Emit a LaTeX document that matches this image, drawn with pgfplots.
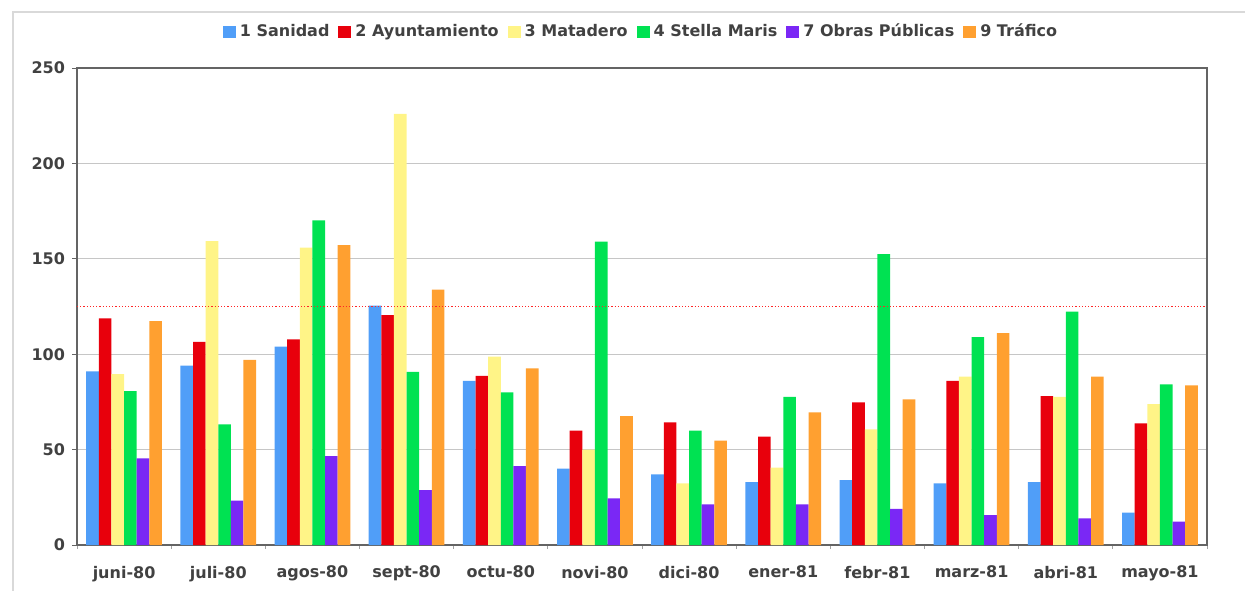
\documentclass[border=0pt]{standalone}
\usepackage{pgfplots}
\pgfplotsset{compat=1.18}
\usepackage{fontspec}
\setmainfont{DejaVu Sans}
\definecolor{cblue}{RGB}{80,158,248}
\definecolor{cred}{RGB}{232,0,12}
\definecolor{cyellow}{RGB}{255,244,135}
\definecolor{cgreen}{RGB}{0,226,82}
\definecolor{cpurple}{RGB}{122,40,245}
\definecolor{corange}{RGB}{255,160,48}
\definecolor{axgray}{RGB}{100,100,100}
\definecolor{txtgray}{RGB}{65,65,65}
\begin{document}
\begin{tikzpicture}
\useasboundingbox (0,0) rectangle (622.5pt,295pt);
\begin{scope}
\clip (0,0) rectangle (622.5pt,295pt);
\draw[gray!30, line width=1.2pt] (6.5pt,-5pt) -- (6.5pt,289pt) -- (640pt,289pt);
\end{scope}
\begin{axis}[
  at={(38.5pt,22.5pt)}, anchor=south west,
  scale only axis, width=565pt, height=238.5pt,
  ybar=0pt, bar width=0.134,
  xmin=-0.5, xmax=11.5, ymin=0, ymax=250,
  ytick={0,50,...,250},
  xtick={0,...,11},
  xticklabels={juni-80,juli-80,agos-80,sept-80,octu-80,novi-80,dici-80,ener-81,febr-81,marz-81,abri-81,mayo-81},
  minor xtick={-0.5,0.5,...,11.5},
  xtick pos=left, ytick pos=left,
  tick align=outside,
  major x tick style={draw=none},
  minor x tick style={axgray!60, line width=0.5pt},
  minor tick length=2pt,
  ytick style={axgray, line width=0.5pt},
  major tick length=2.5pt,
  axis line style={axgray, line width=1pt},
  ymajorgrids, grid style={gray!45, line width=0.6pt},
  ticklabel style={font=\bfseries\fontsize{8}{10}\selectfont, text=txtgray},
  xticklabel style={yshift=-4.5pt},
  /pgf/number format/assume math mode=true,
  legend columns=6,
  legend style={at={(0.5,1)}, anchor=center, yshift=18pt, draw=none, fill=none,
    font=\bfseries\fontsize{8}{10}\selectfont, text=txtgray,
    /tikz/every even column/.append style={column sep=2.5pt}},
  legend image code/.code={\fill[#1] (0pt,-3.2pt) rectangle (6.5pt,3.2pt);},
]
\addplot[fill=cblue, draw=none] coordinates {(0,91) (1,94) (2,104) (3,125.5) (4,86) (5,40) (6,37) (7,33) (8,34) (9,32.3) (10,33) (11,17)};
\addplot[fill=cred, draw=none] coordinates {(0,118.8) (1,106.4) (2,107.8) (3,120.5) (4,88.6) (5,60) (6,64.3) (7,56.8) (8,74.8) (9,86) (10,78) (11,63.8)};
\addplot[fill=cyellow, draw=none] coordinates {(0,89.6) (1,159.3) (2,155.8) (3,226) (4,98.7) (5,50) (6,32.3) (7,40.5) (8,60.6) (9,88.2) (10,77.7) (11,73.9)};
\addplot[fill=cgreen, draw=none] coordinates {(0,80.7) (1,63.2) (2,170.2) (3,90.7) (4,80) (5,159) (6,59.9) (7,77.7) (8,152.5) (9,109) (10,122.3) (11,84.2)};
\addplot[fill=cpurple, draw=none] coordinates {(0,45.4) (1,23.2) (2,46.6) (3,28.8) (4,41.4) (5,24.5) (6,21.3) (7,21.3) (8,19) (9,15.7) (10,14) (11,12.2)};
\addplot[fill=corange, draw=none] coordinates {(0,117.4) (1,97) (2,157.2) (3,133.8) (4,92.6) (5,67.6) (6,54.7) (7,69.5) (8,76.3) (9,111) (10,88.2) (11,83.7)};
\legend{1 Sanidad, 2 Ayuntamiento, 3 Matadero, 4 Stella Maris, 7 Obras Públicas, 9 Tráfico}
\addplot[sharp plot, no marks, forget plot, red!85, densely dotted, line width=0.6pt] coordinates {(-0.5,125) (11.5,125)};
\end{axis}
\end{tikzpicture}
\end{document}
